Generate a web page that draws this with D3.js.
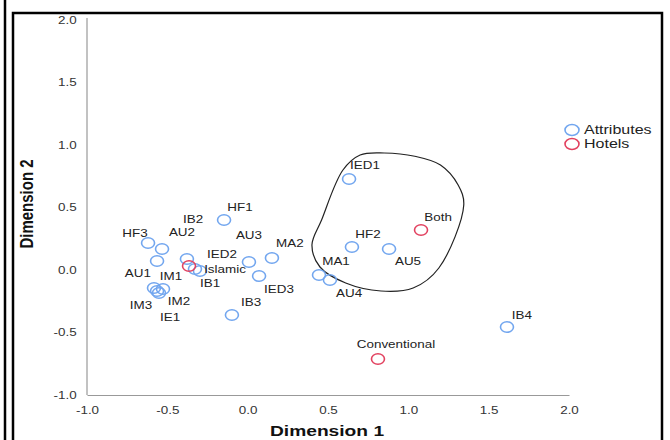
<!DOCTYPE html>
<html>
<head>
<meta charset="utf-8">
<script src="https://cdn.jsdelivr.net/npm/d3@7"></script>
<style>
  body { margin: 0; background: #fff; }
  svg { display: block; font-family: "Liberation Sans", Arial, sans-serif; }
</style>
</head>
<body>
<svg id="chart" width="670" height="440"></svg>
<script>
// attribute points (dimension 1, dimension 2) and where their labels sit
const attrNames = ['HF1','IB2','HF3','AU2','AU1','AU3','MA2','IED2','IB1','IED3','IM1','IM3','IM2','IE1','IB3','IED1','HF2','AU5','MA1','AU4','IB4'];
const attrDim1  = [-0.147,-0.378,-0.620,-0.533,-0.564,0.008,0.151,-0.328,-0.297,0.071,-0.527,-0.583,-0.552,-0.564,-0.098,0.631,0.649,0.880,0.444,0.512,1.614];
const attrDim2  = [0.400,0.088,0.216,0.168,0.072,0.064,0.096,0.008,-0.008,-0.048,-0.152,-0.144,-0.184,-0.168,-0.360,0.728,0.184,0.168,-0.040,-0.080,-0.456];
const attrLabX  = [-0.048,-0.340,-0.701,-0.409,-0.683,0.008,0.263,-0.160,-0.234,0.195,-0.477,-0.664,-0.427,-0.483,0.021,0.730,0.749,0.998,0.550,0.631,1.707];
const attrLabY  = [0.504,0.408,0.296,0.304,-0.024,0.280,0.216,0.128,-0.104,-0.152,-0.048,-0.280,-0.248,-0.376,-0.256,0.840,0.288,0.072,0.072,-0.184,-0.360];

// hotel points
const hotelNames = ['Islamic','Both','Conventional'];
const hotelDim1  = [-0.365,1.079,0.811];
const hotelDim2  = [0.032,0.320,-0.712];
const hotelLabX  = [-0.141,1.185,0.923];
const hotelLabY  = [0.008,0.424,-0.592];

// hand drawn outline round the "Both" group
const hullDim1 = [0.593,0.700,0.850,1.040,1.200,1.310,1.345,1.190,1.030,0.830,0.610,0.450,0.400,0.460];
const hullDim2 = [0.800,0.920,0.936,0.910,0.840,0.680,0.520,0.016,-0.144,-0.168,-0.104,0.024,0.200,0.400];

const xTicks = [-1.0,-0.5,0.0,0.5,1.0,1.5,2.0];
const yTicks = [-1.0,-0.5,0.0,0.5,1.0,1.5,2.0];
const legendNames = ['Attributes','Hotels'];

const blue = '#72a6ef';
const red = '#e2415f';
const stretch = 1.28;   // the original picture is widened

const svg = d3.select('#chart');

// frame lines
svg.append('line').attr('x1', 5).attr('x2', 5).attr('y1', 0).attr('y2', 440)
  .style('stroke', '#000').style('stroke-width', 2.5);
svg.append('path').attr('d', 'M13,445V13H662V445')
  .style('fill', 'none').style('stroke', '#000').style('stroke-width', 2.5);

const x = d3.scaleLinear().domain([-1, 2]).range([87, 569]);
const y = d3.scaleLinear().domain([-1, 2]).range([395, 20]);

function stretchText(sel, px, py, rot){
    sel.attr('transform', 'translate(' + px + ',' + py + ') scale(' + stretch + ',1)' + (rot ? ' rotate(' + rot + ')' : ''));
}

const fmt = d=>d.toFixed(1);

// axes
const gx = svg.append('g').attr('transform', 'translate(0,395)')
  .call(d3.axisBottom(x).tickValues(xTicks).tickFormat(fmt).tickSize(0).tickPadding(12));
const gy = svg.append('g').attr('transform', 'translate(87,0)')
  .call(d3.axisLeft(y).tickValues(yTicks).tickFormat(fmt).tickSize(0).tickPadding(8));
gy.select('.domain').attr('d', 'M0,18V395');
[gx, gy].forEach(g=>{
    g.select('.domain').style('stroke', '#999').style('stroke-width', 1.2);
    g.selectAll('text').style('font-family', '"Liberation Sans", Arial, sans-serif')
      .style('font-size', '10.5px').style('fill', '#333');
});
gx.selectAll('text').attr('transform', 'scale(' + stretch + ',1)');
gy.selectAll('text').attr('transform', 'scale(' + stretch + ',1)').attr('dy', '0.32em');

// axis titles
svg.append('text').text('Dimension 1')
  .attr('text-anchor', 'middle')
  .style('font-size', '15px').style('font-weight', 'bold').style('fill', '#111')
  .call(stretchText, 327, 436);
svg.append('text').text('Dimension 2')
  .attr('text-anchor', 'middle')
  .style('font-size', '15px').style('font-weight', 'bold').style('fill', '#111')
  .call(stretchText, 33, 204, -90);

// outline
const hull = hullDim1.map((d, i)=>[d, hullDim2[i]]);
svg.append('path')
  .attr('d', d3.line().x(d=>x(d[0])).y(d=>y(d[1])).curve(d3.curveCatmullRomClosed.alpha(0.5))(hull))
  .style('fill', 'none').style('stroke', '#222').style('stroke-width', 1.2);

// points
function drawPoints(names, d1, d2, lx, ly, color){
    const rows = names.map((n, i)=>({name: n, x: d1[i], y: d2[i], lx: lx[i], ly: ly[i]}));
    svg.append('g').selectAll('ellipse').data(rows).enter().append('ellipse')
      .attr('cx', d=>x(d.x)).attr('cy', d=>y(d.y))
      .attr('rx', 6.5).attr('ry', 5.3)
      .style('fill', 'none').style('stroke', color).style('stroke-width', 1.6);
    svg.append('g').selectAll('text').data(rows).enter().append('text')
      .text(d=>d.name)
      .attr('text-anchor', 'middle').attr('dy', '0.35em')
      .style('font-size', '10.5px').style('fill', '#222')
      .each(function(d){ d3.select(this).call(stretchText, x(d.lx), y(d.ly)); });
}
drawPoints(attrNames, attrDim1, attrDim2, attrLabX, attrLabY, blue);
drawPoints(hotelNames, hotelDim1, hotelDim2, hotelLabX, hotelLabY, red);

// legend
const legend = svg.append('g');
legendNames.forEach((n, i)=>{
    const ly = 130 + i * 14;
    legend.append('ellipse').attr('cx', 572).attr('cy', ly).attr('rx', 7).attr('ry', 5.5)
      .style('fill', 'none').style('stroke', i == 0 ? blue : red).style('stroke-width', 1.6);
    legend.append('text').text(n).attr('dy', '0.35em')
      .style('font-size', '12.5px').style('fill', '#222')
      .call(stretchText, 584, ly);
});
</script>
</body>
</html>
